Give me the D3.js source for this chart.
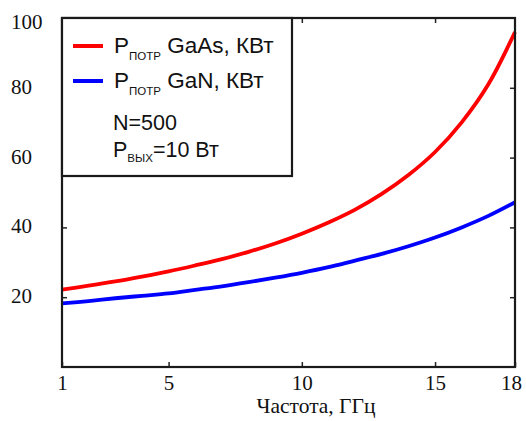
<!DOCTYPE html>
<html>
<head>
<meta charset="utf-8">
<script src="https://cdn.jsdelivr.net/npm/d3@7"></script>
<style>
	body { margin: 0; background: #fff; }
	svg { display: block; }
	.tick text { font-family: "Liberation Serif", "Times New Roman", serif; font-size: 21px; fill: #111; }
	.leg { font-family: "Liberation Sans", Arial, sans-serif; fill: #111; }
</style>
</head>
<body>
<svg id="chart" width="526" height="421"></svg>
<script>
// data
const freq = [1, 2, 3, 4, 5, 6, 7, 8, 9, 10, 11, 12, 13, 14, 15, 16, 17, 18]
const p_gaas = [22.2, 23.3, 24.5, 25.9, 27.4, 29.1, 30.9, 33.0, 35.4, 38.2, 41.4, 45.1, 49.6, 55.0, 61.6, 70.1, 81.0, 96.0]
const p_gan = [18.2, 18.9, 19.7, 20.4, 21.1, 22.1, 23.1, 24.3, 25.6, 27.0, 28.6, 30.5, 32.4, 34.6, 37.1, 40.0, 43.3, 47.2]
const x_ticks = [1, 5, 10, 15, 18]
const y_ticks = [20, 40, 60, 80, 100]
const x_label = "Частота, ГГц"

const m_left = 62, m_right = 515, m_top = 18, m_bottom = 367

const svg = d3.select('#chart')
const x = d3.scaleLinear().domain([1, 18]).range([m_left, m_right])
const y = d3.scaleLinear().domain([0, 100]).range([m_bottom, m_top])

// curves
const line = d3.line().x(d => x(d[0])).y(d => y(d[1])).curve(d3.curveCatmullRom)
svg.append('path').datum(d3.zip(freq, p_gan))
	.attr('d', line).attr('fill', 'none').attr('stroke', '#0000ff').attr('stroke-width', 3.8)
svg.append('path').datum(d3.zip(freq, p_gaas))
	.attr('d', line).attr('fill', 'none').attr('stroke', '#ff0000').attr('stroke-width', 3.8)

// axes, ticks point inward
const yAxis = svg.append('g').attr('transform', `translate(${m_left},0)`)
	.call(d3.axisLeft(y).tickValues(y_ticks).tickSize(-5).tickPadding(0))
yAxis.selectAll('text').attr('text-anchor', 'start').attr('x', 11 - m_left)
	.attr('dy', d => d == 100 ? 10 : 5.5)

const xAxis = svg.append('g').attr('transform', `translate(0,${m_bottom})`)
	.call(d3.axisBottom(x).tickValues(x_ticks).tickFormat(d3.format('d')).tickSize(-5))
xAxis.selectAll('text').attr('y', 22.5).attr('dy', null)
	.attr('x', d => d == 18 ? -4 : 0)

svg.append('g').attr('transform', `translate(0,${m_top})`)
	.call(d3.axisTop(x).tickValues([5, 10, 15]).tickSize(-5).tickFormat(''))
svg.append('g').attr('transform', `translate(${m_right},0)`)
	.call(d3.axisRight(y).tickValues([20, 40, 60, 80]).tickSize(-5).tickFormat(''))

svg.selectAll('.domain').remove()
svg.selectAll('.tick line').attr('stroke', '#222').attr('stroke-width', 1.5)

// frame
svg.append('rect').attr('x', m_left).attr('y', m_top)
	.attr('width', m_right - m_left).attr('height', m_bottom - m_top)
	.attr('fill', 'none').attr('stroke', '#1a1a1a').attr('stroke-width', 2.2)

svg.append('text').attr('x', 316).attr('y', 413)
	.attr('text-anchor', 'middle')
	.style('font-family', '"Liberation Serif", "Times New Roman", serif')
	.style('font-size', '21.5px').style('fill', '#111')
	.text(x_label)

// legend box
const leg = svg.append('g')
leg.append('rect').attr('x', m_left).attr('y', m_top).attr('width', 230).attr('height', 158)
	.attr('fill', '#fff').attr('stroke', '#1a1a1a').attr('stroke-width', 2.2)

const entries = [
	{ color: '#ff0000', sub: 'ПОТР', rest: ' GaAs, КВт', yb: 53 },
	{ color: '#0000ff', sub: 'ПОТР', rest: ' GaN, КВт', yb: 88 }
]
for (let e of entries) {
	leg.append('line').attr('x1', 73).attr('x2', 103).attr('y1', e.yb - 7).attr('y2', e.yb - 7)
		.attr('stroke', e.color).attr('stroke-width', 4)
	let t = leg.append('text').attr('class', 'leg').attr('x', 114).attr('y', e.yb).style('font-size', '22.5px')
	t.append('tspan').text('P')
	t.append('tspan').attr('dy', 7).style('font-size', '11.5px').text(e.sub)
	t.append('tspan').attr('dy', -7).text(e.rest)
}
leg.append('text').attr('class', 'leg').attr('x', 113).attr('y', 130).style('font-size', '21.5px').text('N=500')
let t2 = leg.append('text').attr('class', 'leg').attr('x', 113).attr('y', 157).style('font-size', '21.5px')
t2.append('tspan').text('P')
t2.append('tspan').attr('dy', 5).style('font-size', '11.5px').text('ВЫХ')
t2.append('tspan').attr('dy', -5).text('=10 Вт')
</script>
</body>
</html>
